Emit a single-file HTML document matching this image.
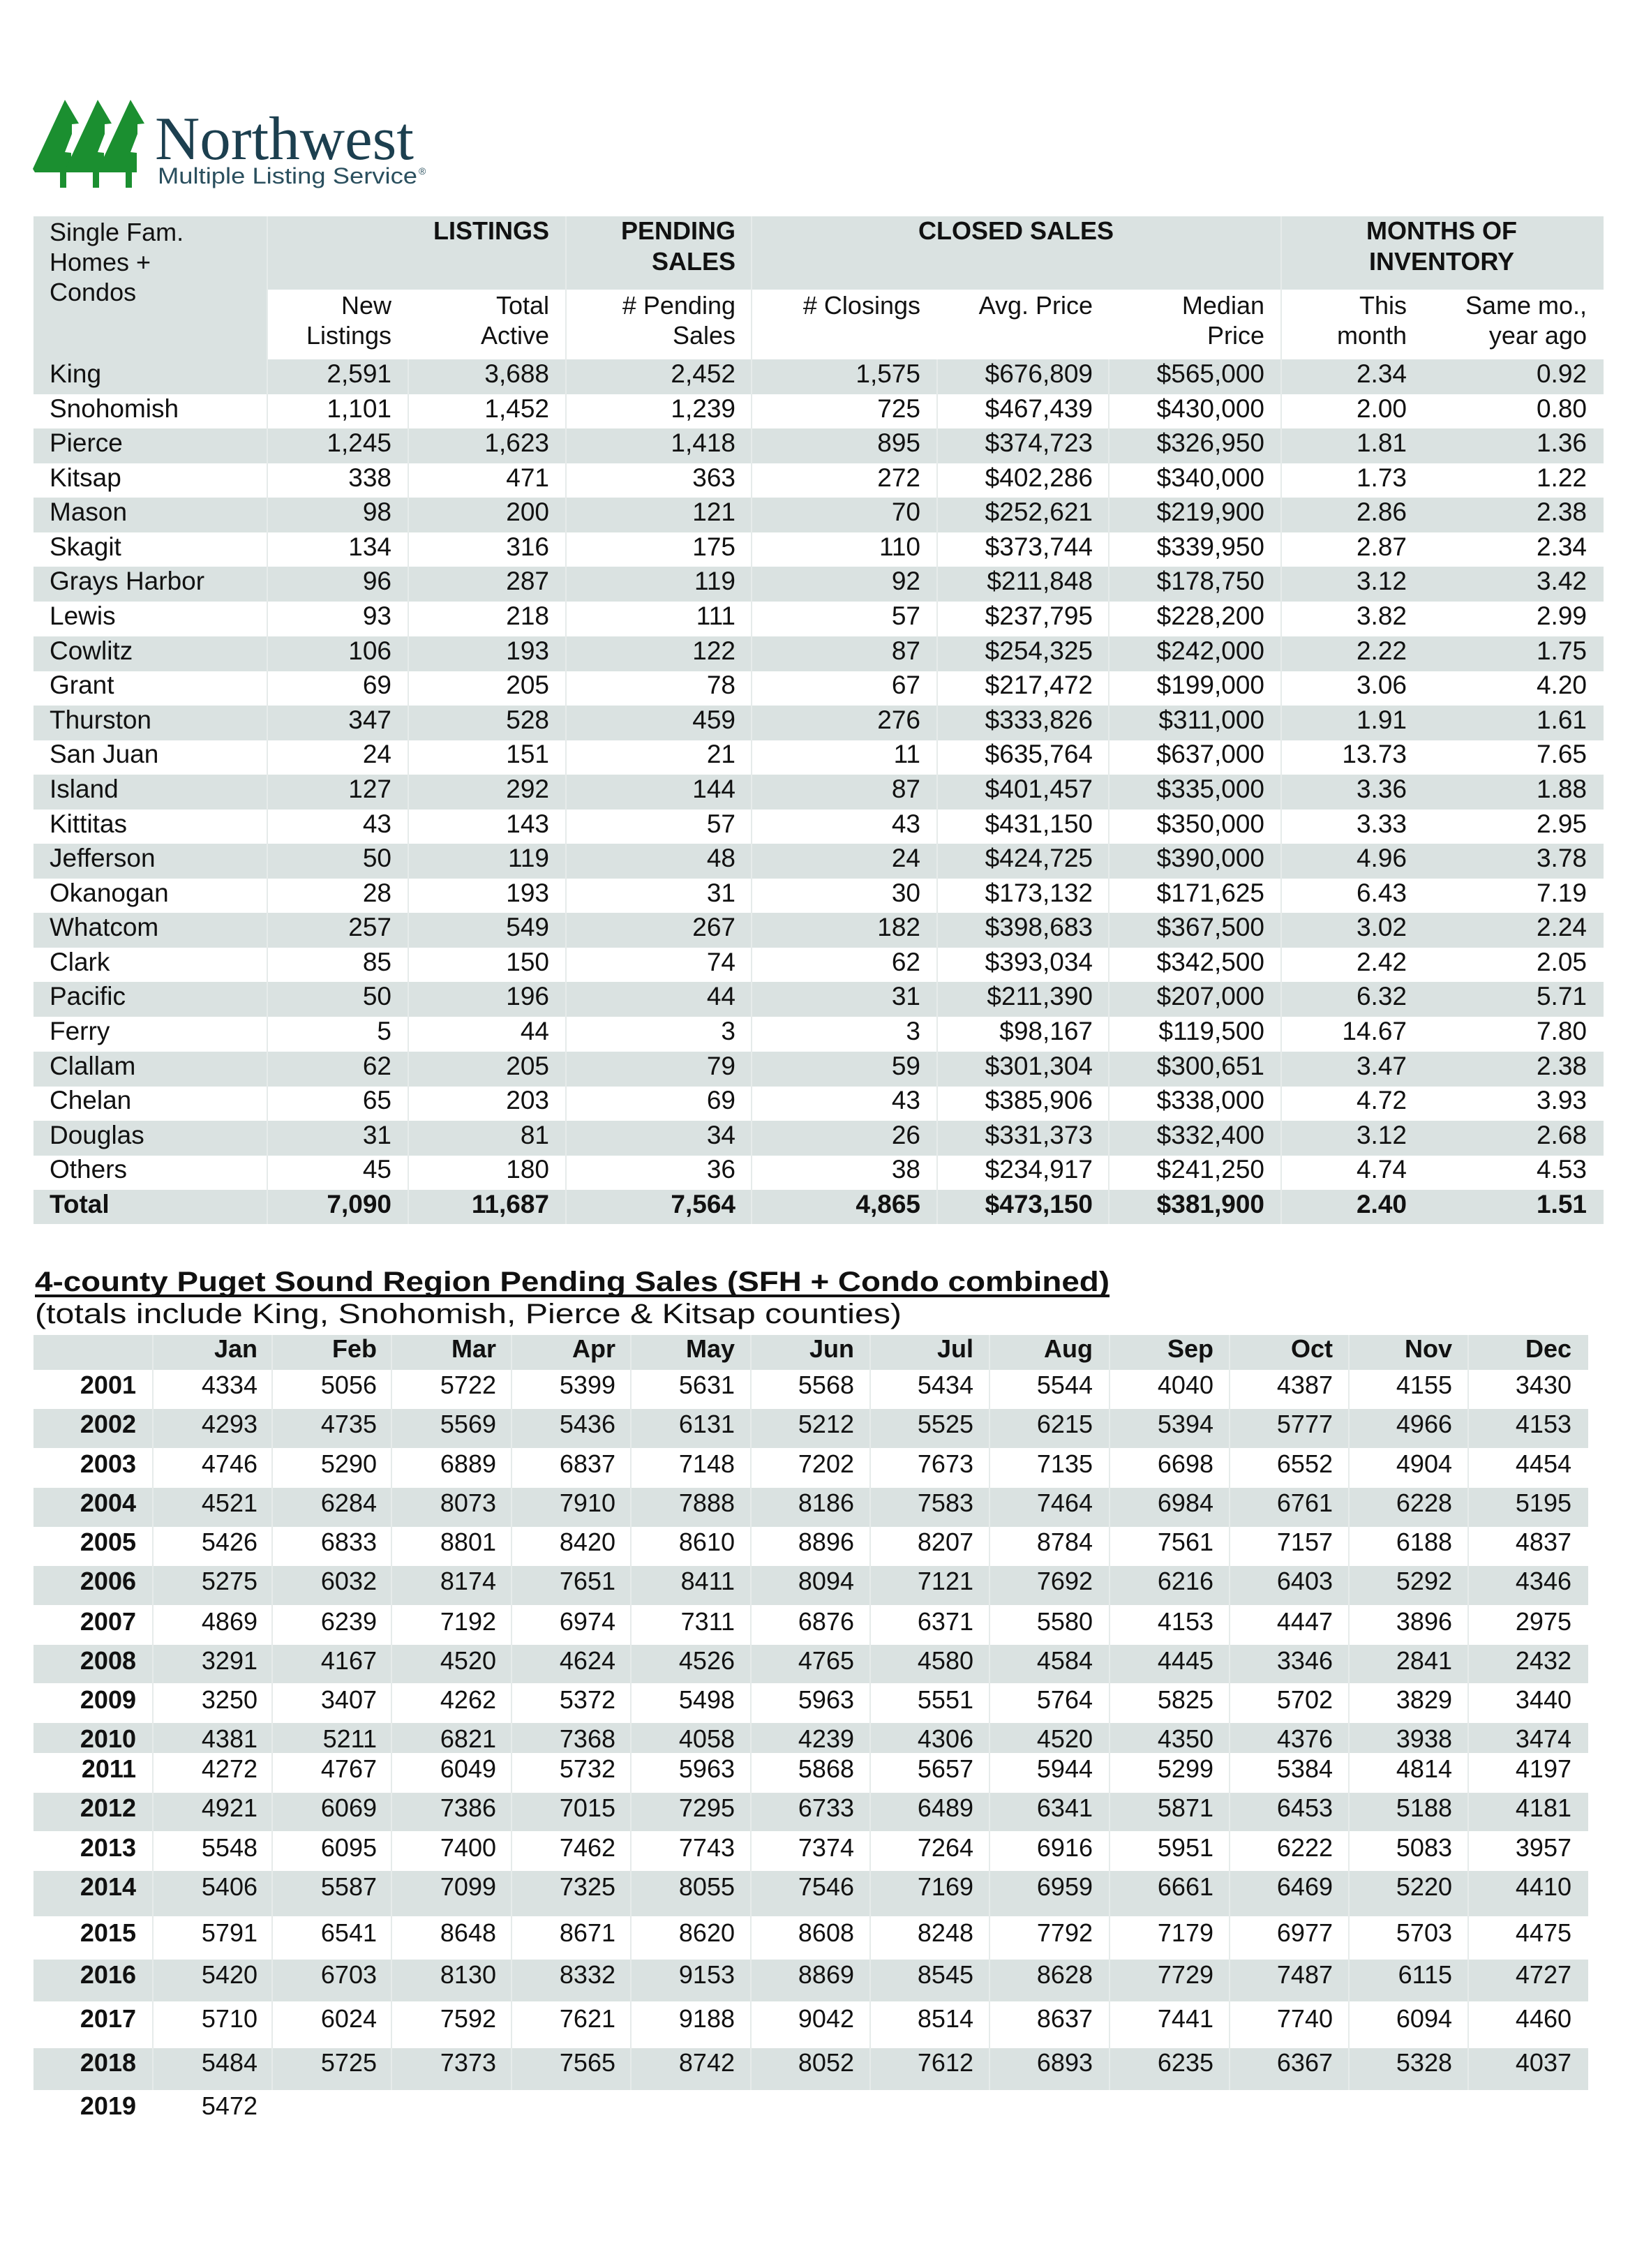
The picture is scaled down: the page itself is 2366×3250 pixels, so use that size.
<!DOCTYPE html>
<html><head><meta charset="utf-8"><style>
html,body{margin:0;padding:0;background:#fff;}
svg{display:block;}
text{font-family:"Liberation Sans",Arial,sans-serif;fill:#111;}
</style></head><body>
<svg width="2366" height="3250" viewBox="0 0 2366 3250" xmlns="http://www.w3.org/2000/svg">
<rect width="2366" height="3250" fill="#fff"/>
<!-- Logo -->
<g fill="#1b8f30">
<polygon points="93,143 113,177 103,178 103,192 93,218 102,219 102,247 50,247 47,242"/>
<rect x="86" y="246" width="9" height="23"/>
<polygon points="140,143 160,177 150,178 150,192 140,218 149,219 149,247 97,247 94,242"/>
<rect x="133" y="246" width="9" height="23"/>
<polygon points="187,143 207,177 197,178 197,192 187,218 196,219 196,247 144,247 141,242"/>
<rect x="180" y="246" width="9" height="23"/>
</g>
<text x="222" y="228" style="font-family:'Liberation Serif',serif;font-size:88px;fill:#1c3f4f" textLength="371" lengthAdjust="spacingAndGlyphs">Northwest</text>
<text x="226" y="263" style="font-size:32px;fill:#2a4f5e" textLength="372" lengthAdjust="spacingAndGlyphs">Multiple Listing Service</text>
<text x="600" y="250" style="font-size:14px;fill:#2a4f5e">®</text>

<!-- Top table backgrounds -->
<rect x="48" y="310" width="2250" height="105" fill="#dae2e1"/>
<rect x="48" y="415" width="335" height="100" fill="#dae2e1"/>
<g fill="#dae2e1">
<rect x="48" y="515" width="2250" height="50"/>
<rect x="48" y="614" width="2250" height="50"/>
<rect x="48" y="713" width="2250" height="50"/>
<rect x="48" y="812" width="2250" height="50"/>
<rect x="48" y="912" width="2250" height="50"/>
<rect x="48" y="1011" width="2250" height="50"/>
<rect x="48" y="1110" width="2250" height="50"/>
<rect x="48" y="1209" width="2250" height="50"/>
<rect x="48" y="1308" width="2250" height="50"/>
<rect x="48" y="1407" width="2250" height="50"/>
<rect x="48" y="1507" width="2250" height="50"/>
<rect x="48" y="1606" width="2250" height="50"/>
<rect x="48" y="1705" width="2250" height="49"/>
</g>
<g stroke="#e6ebea" stroke-width="2">
<line x1="383" y1="310" x2="383" y2="1754"/><line x1="585" y1="515" x2="585" y2="1754"/>
<line x1="811" y1="310" x2="811" y2="1754"/><line x1="1077" y1="310" x2="1077" y2="1754"/>
<line x1="1343" y1="515" x2="1343" y2="1754"/><line x1="1589" y1="515" x2="1589" y2="1754"/>
<line x1="1836" y1="310" x2="1836" y2="1754"/>
</g>

<!-- Top table header -->
<g style="font-size:36px">
<text x="71" y="345">Single Fam.</text>
<text x="71" y="388">Homes +</text>
<text x="71" y="431">Condos</text>
</g>
<g style="font-size:36px;font-weight:bold" text-anchor="end">
<text x="787" y="343">LISTINGS</text>
<text x="1054" y="343">PENDING</text>
<text x="1054" y="387">SALES</text>
</g>
<g style="font-size:36px;font-weight:bold" text-anchor="middle">
<text x="1456" y="343">CLOSED SALES</text>
<text x="2066" y="343">MONTHS OF</text>
<text x="2066" y="387">INVENTORY</text>
</g>
<g style="font-size:36px" text-anchor="end">
<text x="561" y="450">New</text><text x="561" y="493">Listings</text>
<text x="787" y="450">Total</text><text x="787" y="493">Active</text>
<text x="1054" y="450"># Pending</text><text x="1054" y="493">Sales</text>
<text x="1319" y="450"># Closings</text>
<text x="1566" y="450">Avg. Price</text>
<text x="1812" y="450">Median</text><text x="1812" y="493">Price</text>
<text x="2016" y="450">This</text><text x="2016" y="493">month</text>
<text x="2274" y="450">Same mo.,</text><text x="2274" y="493">year ago</text>
</g>

<!-- Top table data -->
<g style="font-size:37px">
<text x="71" y="548">King</text><text x="71" y="598">Snohomish</text><text x="71" y="647">Pierce</text><text x="71" y="697">Kitsap</text><text x="71" y="746">Mason</text><text x="71" y="796">Skagit</text><text x="71" y="845">Grays Harbor</text><text x="71" y="895">Lewis</text><text x="71" y="945">Cowlitz</text><text x="71" y="994">Grant</text><text x="71" y="1044">Thurston</text><text x="71" y="1093">San Juan</text><text x="71" y="1143">Island</text><text x="71" y="1193">Kittitas</text><text x="71" y="1242">Jefferson</text><text x="71" y="1292">Okanogan</text><text x="71" y="1341">Whatcom</text><text x="71" y="1391">Clark</text><text x="71" y="1440">Pacific</text><text x="71" y="1490">Ferry</text><text x="71" y="1540">Clallam</text><text x="71" y="1589">Chelan</text><text x="71" y="1639">Douglas</text><text x="71" y="1688">Others</text>
<text x="71" y="1738" style="font-weight:bold">Total</text>
</g>
<g style="font-size:37px" text-anchor="end">
<!-- New Listings -->
<text x="561" y="548">2,591</text><text x="561" y="598">1,101</text><text x="561" y="647">1,245</text><text x="561" y="697">338</text><text x="561" y="746">98</text><text x="561" y="796">134</text><text x="561" y="845">96</text><text x="561" y="895">93</text><text x="561" y="945">106</text><text x="561" y="994">69</text><text x="561" y="1044">347</text><text x="561" y="1093">24</text><text x="561" y="1143">127</text><text x="561" y="1193">43</text><text x="561" y="1242">50</text><text x="561" y="1292">28</text><text x="561" y="1341">257</text><text x="561" y="1391">85</text><text x="561" y="1440">50</text><text x="561" y="1490">5</text><text x="561" y="1540">62</text><text x="561" y="1589">65</text><text x="561" y="1639">31</text><text x="561" y="1688">45</text>
<!-- Total Active -->
<text x="787" y="548">3,688</text><text x="787" y="598">1,452</text><text x="787" y="647">1,623</text><text x="787" y="697">471</text><text x="787" y="746">200</text><text x="787" y="796">316</text><text x="787" y="845">287</text><text x="787" y="895">218</text><text x="787" y="945">193</text><text x="787" y="994">205</text><text x="787" y="1044">528</text><text x="787" y="1093">151</text><text x="787" y="1143">292</text><text x="787" y="1193">143</text><text x="787" y="1242">119</text><text x="787" y="1292">193</text><text x="787" y="1341">549</text><text x="787" y="1391">150</text><text x="787" y="1440">196</text><text x="787" y="1490">44</text><text x="787" y="1540">205</text><text x="787" y="1589">203</text><text x="787" y="1639">81</text><text x="787" y="1688">180</text>
<!-- Pending -->
<text x="1054" y="548">2,452</text><text x="1054" y="598">1,239</text><text x="1054" y="647">1,418</text><text x="1054" y="697">363</text><text x="1054" y="746">121</text><text x="1054" y="796">175</text><text x="1054" y="845">119</text><text x="1054" y="895">111</text><text x="1054" y="945">122</text><text x="1054" y="994">78</text><text x="1054" y="1044">459</text><text x="1054" y="1093">21</text><text x="1054" y="1143">144</text><text x="1054" y="1193">57</text><text x="1054" y="1242">48</text><text x="1054" y="1292">31</text><text x="1054" y="1341">267</text><text x="1054" y="1391">74</text><text x="1054" y="1440">44</text><text x="1054" y="1490">3</text><text x="1054" y="1540">79</text><text x="1054" y="1589">69</text><text x="1054" y="1639">34</text><text x="1054" y="1688">36</text>
<!-- Closings -->
<text x="1319" y="548">1,575</text><text x="1319" y="598">725</text><text x="1319" y="647">895</text><text x="1319" y="697">272</text><text x="1319" y="746">70</text><text x="1319" y="796">110</text><text x="1319" y="845">92</text><text x="1319" y="895">57</text><text x="1319" y="945">87</text><text x="1319" y="994">67</text><text x="1319" y="1044">276</text><text x="1319" y="1093">11</text><text x="1319" y="1143">87</text><text x="1319" y="1193">43</text><text x="1319" y="1242">24</text><text x="1319" y="1292">30</text><text x="1319" y="1341">182</text><text x="1319" y="1391">62</text><text x="1319" y="1440">31</text><text x="1319" y="1490">3</text><text x="1319" y="1540">59</text><text x="1319" y="1589">43</text><text x="1319" y="1639">26</text><text x="1319" y="1688">38</text>
<!-- Avg Price -->
<text x="1566" y="548">$676,809</text><text x="1566" y="598">$467,439</text><text x="1566" y="647">$374,723</text><text x="1566" y="697">$402,286</text><text x="1566" y="746">$252,621</text><text x="1566" y="796">$373,744</text><text x="1566" y="845">$211,848</text><text x="1566" y="895">$237,795</text><text x="1566" y="945">$254,325</text><text x="1566" y="994">$217,472</text><text x="1566" y="1044">$333,826</text><text x="1566" y="1093">$635,764</text><text x="1566" y="1143">$401,457</text><text x="1566" y="1193">$431,150</text><text x="1566" y="1242">$424,725</text><text x="1566" y="1292">$173,132</text><text x="1566" y="1341">$398,683</text><text x="1566" y="1391">$393,034</text><text x="1566" y="1440">$211,390</text><text x="1566" y="1490">$98,167</text><text x="1566" y="1540">$301,304</text><text x="1566" y="1589">$385,906</text><text x="1566" y="1639">$331,373</text><text x="1566" y="1688">$234,917</text>
<!-- Median -->
<text x="1812" y="548">$565,000</text><text x="1812" y="598">$430,000</text><text x="1812" y="647">$326,950</text><text x="1812" y="697">$340,000</text><text x="1812" y="746">$219,900</text><text x="1812" y="796">$339,950</text><text x="1812" y="845">$178,750</text><text x="1812" y="895">$228,200</text><text x="1812" y="945">$242,000</text><text x="1812" y="994">$199,000</text><text x="1812" y="1044">$311,000</text><text x="1812" y="1093">$637,000</text><text x="1812" y="1143">$335,000</text><text x="1812" y="1193">$350,000</text><text x="1812" y="1242">$390,000</text><text x="1812" y="1292">$171,625</text><text x="1812" y="1341">$367,500</text><text x="1812" y="1391">$342,500</text><text x="1812" y="1440">$207,000</text><text x="1812" y="1490">$119,500</text><text x="1812" y="1540">$300,651</text><text x="1812" y="1589">$338,000</text><text x="1812" y="1639">$332,400</text><text x="1812" y="1688">$241,250</text>
<!-- This month -->
<text x="2016" y="548">2.34</text><text x="2016" y="598">2.00</text><text x="2016" y="647">1.81</text><text x="2016" y="697">1.73</text><text x="2016" y="746">2.86</text><text x="2016" y="796">2.87</text><text x="2016" y="845">3.12</text><text x="2016" y="895">3.82</text><text x="2016" y="945">2.22</text><text x="2016" y="994">3.06</text><text x="2016" y="1044">1.91</text><text x="2016" y="1093">13.73</text><text x="2016" y="1143">3.36</text><text x="2016" y="1193">3.33</text><text x="2016" y="1242">4.96</text><text x="2016" y="1292">6.43</text><text x="2016" y="1341">3.02</text><text x="2016" y="1391">2.42</text><text x="2016" y="1440">6.32</text><text x="2016" y="1490">14.67</text><text x="2016" y="1540">3.47</text><text x="2016" y="1589">4.72</text><text x="2016" y="1639">3.12</text><text x="2016" y="1688">4.74</text>
<!-- Same mo -->
<text x="2274" y="548">0.92</text><text x="2274" y="598">0.80</text><text x="2274" y="647">1.36</text><text x="2274" y="697">1.22</text><text x="2274" y="746">2.38</text><text x="2274" y="796">2.34</text><text x="2274" y="845">3.42</text><text x="2274" y="895">2.99</text><text x="2274" y="945">1.75</text><text x="2274" y="994">4.20</text><text x="2274" y="1044">1.61</text><text x="2274" y="1093">7.65</text><text x="2274" y="1143">1.88</text><text x="2274" y="1193">2.95</text><text x="2274" y="1242">3.78</text><text x="2274" y="1292">7.19</text><text x="2274" y="1341">2.24</text><text x="2274" y="1391">2.05</text><text x="2274" y="1440">5.71</text><text x="2274" y="1490">7.80</text><text x="2274" y="1540">2.38</text><text x="2274" y="1589">3.93</text><text x="2274" y="1639">2.68</text><text x="2274" y="1688">4.53</text>
</g>
<g style="font-size:37px;font-weight:bold" text-anchor="end">
<text x="561" y="1738">7,090</text><text x="787" y="1738">11,687</text><text x="1054" y="1738">7,564</text><text x="1319" y="1738">4,865</text><text x="1566" y="1738">$473,150</text><text x="1812" y="1738">$381,900</text><text x="2016" y="1738">2.40</text><text x="2274" y="1738">1.51</text>
</g>

<!-- Title -->
<text x="50" y="1850" style="font-size:40px;font-weight:bold" textLength="1540" lengthAdjust="spacingAndGlyphs">4-county Puget Sound Region Pending Sales (SFH + Condo combined)</text>
<rect x="50" y="1855" width="1540" height="4" fill="#111"/>
<text x="50" y="1896" style="font-size:40px" textLength="1242" lengthAdjust="spacingAndGlyphs">(totals include King, Snohomish, Pierce &amp; Kitsap counties)</text>

<!-- Second table backgrounds -->
<g fill="#dae2e1">
<rect x="48" y="1913" width="2228" height="50"/>
<rect x="48" y="2019" width="2228" height="56"/>
<rect x="48" y="2132" width="2228" height="56"/>
<rect x="48" y="2244" width="2228" height="56"/>
<rect x="48" y="2357" width="2228" height="55"/>
<rect x="48" y="2469" width="2228" height="43"/>
<rect x="48" y="2569" width="2228" height="55"/>
<rect x="48" y="2681" width="2228" height="65"/>
<rect x="48" y="2808" width="2228" height="60"/>
<rect x="48" y="2935" width="2228" height="60"/>
</g>
<g stroke="#e6ebea" stroke-width="2">
<line x1="219" y1="1913" x2="219" y2="2995"/><line x1="390" y1="1913" x2="390" y2="2995"/><line x1="561" y1="1913" x2="561" y2="2995"/><line x1="733" y1="1913" x2="733" y2="2995"/><line x1="904" y1="1913" x2="904" y2="2995"/><line x1="1076" y1="1913" x2="1076" y2="2995"/><line x1="1247" y1="1913" x2="1247" y2="2995"/><line x1="1418" y1="1913" x2="1418" y2="2995"/><line x1="1590" y1="1913" x2="1590" y2="2995"/><line x1="1762" y1="1913" x2="1762" y2="2995"/><line x1="1933" y1="1913" x2="1933" y2="2995"/><line x1="2104" y1="1913" x2="2104" y2="2995"/>
</g>

<!-- Second table header -->
<g style="font-size:36px;font-weight:bold" text-anchor="end">
<text x="369" y="1945">Jan</text><text x="540" y="1945">Feb</text><text x="711" y="1945">Mar</text><text x="882" y="1945">Apr</text><text x="1053" y="1945">May</text><text x="1224" y="1945">Jun</text><text x="1395" y="1945">Jul</text><text x="1566" y="1945">Aug</text><text x="1739" y="1945">Sep</text><text x="1910" y="1945">Oct</text><text x="2081" y="1945">Nov</text><text x="2252" y="1945">Dec</text>
<text x="195" y="1997">2001</text><text x="195" y="2053">2002</text><text x="195" y="2110">2003</text><text x="195" y="2166">2004</text><text x="195" y="2222">2005</text><text x="195" y="2278">2006</text><text x="195" y="2336">2007</text><text x="195" y="2392">2008</text><text x="195" y="2448">2009</text><text x="195" y="2504">2010</text><text x="195" y="2547">2011</text><text x="195" y="2603">2012</text><text x="195" y="2660">2013</text><text x="195" y="2716">2014</text><text x="195" y="2782">2015</text><text x="195" y="2842">2016</text><text x="195" y="2905">2017</text><text x="195" y="2968">2018</text><text x="195" y="3030">2019</text>
</g>
<g style="font-size:36px" text-anchor="end">
<g transform="translate(0,1997)"><text x="369">4334</text><text x="540">5056</text><text x="711">5722</text><text x="882">5399</text><text x="1053">5631</text><text x="1224">5568</text><text x="1395">5434</text><text x="1566">5544</text><text x="1739">4040</text><text x="1910">4387</text><text x="2081">4155</text><text x="2252">3430</text></g>
<g transform="translate(0,2053)"><text x="369">4293</text><text x="540">4735</text><text x="711">5569</text><text x="882">5436</text><text x="1053">6131</text><text x="1224">5212</text><text x="1395">5525</text><text x="1566">6215</text><text x="1739">5394</text><text x="1910">5777</text><text x="2081">4966</text><text x="2252">4153</text></g>
<g transform="translate(0,2110)"><text x="369">4746</text><text x="540">5290</text><text x="711">6889</text><text x="882">6837</text><text x="1053">7148</text><text x="1224">7202</text><text x="1395">7673</text><text x="1566">7135</text><text x="1739">6698</text><text x="1910">6552</text><text x="2081">4904</text><text x="2252">4454</text></g>
<g transform="translate(0,2166)"><text x="369">4521</text><text x="540">6284</text><text x="711">8073</text><text x="882">7910</text><text x="1053">7888</text><text x="1224">8186</text><text x="1395">7583</text><text x="1566">7464</text><text x="1739">6984</text><text x="1910">6761</text><text x="2081">6228</text><text x="2252">5195</text></g>
<g transform="translate(0,2222)"><text x="369">5426</text><text x="540">6833</text><text x="711">8801</text><text x="882">8420</text><text x="1053">8610</text><text x="1224">8896</text><text x="1395">8207</text><text x="1566">8784</text><text x="1739">7561</text><text x="1910">7157</text><text x="2081">6188</text><text x="2252">4837</text></g>
<g transform="translate(0,2278)"><text x="369">5275</text><text x="540">6032</text><text x="711">8174</text><text x="882">7651</text><text x="1053">8411</text><text x="1224">8094</text><text x="1395">7121</text><text x="1566">7692</text><text x="1739">6216</text><text x="1910">6403</text><text x="2081">5292</text><text x="2252">4346</text></g>
<g transform="translate(0,2336)"><text x="369">4869</text><text x="540">6239</text><text x="711">7192</text><text x="882">6974</text><text x="1053">7311</text><text x="1224">6876</text><text x="1395">6371</text><text x="1566">5580</text><text x="1739">4153</text><text x="1910">4447</text><text x="2081">3896</text><text x="2252">2975</text></g>
<g transform="translate(0,2392)"><text x="369">3291</text><text x="540">4167</text><text x="711">4520</text><text x="882">4624</text><text x="1053">4526</text><text x="1224">4765</text><text x="1395">4580</text><text x="1566">4584</text><text x="1739">4445</text><text x="1910">3346</text><text x="2081">2841</text><text x="2252">2432</text></g>
<g transform="translate(0,2448)"><text x="369">3250</text><text x="540">3407</text><text x="711">4262</text><text x="882">5372</text><text x="1053">5498</text><text x="1224">5963</text><text x="1395">5551</text><text x="1566">5764</text><text x="1739">5825</text><text x="1910">5702</text><text x="2081">3829</text><text x="2252">3440</text></g>
<g transform="translate(0,2504)"><text x="369">4381</text><text x="540">5211</text><text x="711">6821</text><text x="882">7368</text><text x="1053">4058</text><text x="1224">4239</text><text x="1395">4306</text><text x="1566">4520</text><text x="1739">4350</text><text x="1910">4376</text><text x="2081">3938</text><text x="2252">3474</text></g>
<g transform="translate(0,2547)"><text x="369">4272</text><text x="540">4767</text><text x="711">6049</text><text x="882">5732</text><text x="1053">5963</text><text x="1224">5868</text><text x="1395">5657</text><text x="1566">5944</text><text x="1739">5299</text><text x="1910">5384</text><text x="2081">4814</text><text x="2252">4197</text></g>
<g transform="translate(0,2603)"><text x="369">4921</text><text x="540">6069</text><text x="711">7386</text><text x="882">7015</text><text x="1053">7295</text><text x="1224">6733</text><text x="1395">6489</text><text x="1566">6341</text><text x="1739">5871</text><text x="1910">6453</text><text x="2081">5188</text><text x="2252">4181</text></g>
<g transform="translate(0,2660)"><text x="369">5548</text><text x="540">6095</text><text x="711">7400</text><text x="882">7462</text><text x="1053">7743</text><text x="1224">7374</text><text x="1395">7264</text><text x="1566">6916</text><text x="1739">5951</text><text x="1910">6222</text><text x="2081">5083</text><text x="2252">3957</text></g>
<g transform="translate(0,2716)"><text x="369">5406</text><text x="540">5587</text><text x="711">7099</text><text x="882">7325</text><text x="1053">8055</text><text x="1224">7546</text><text x="1395">7169</text><text x="1566">6959</text><text x="1739">6661</text><text x="1910">6469</text><text x="2081">5220</text><text x="2252">4410</text></g>
<g transform="translate(0,2782)"><text x="369">5791</text><text x="540">6541</text><text x="711">8648</text><text x="882">8671</text><text x="1053">8620</text><text x="1224">8608</text><text x="1395">8248</text><text x="1566">7792</text><text x="1739">7179</text><text x="1910">6977</text><text x="2081">5703</text><text x="2252">4475</text></g>
<g transform="translate(0,2842)"><text x="369">5420</text><text x="540">6703</text><text x="711">8130</text><text x="882">8332</text><text x="1053">9153</text><text x="1224">8869</text><text x="1395">8545</text><text x="1566">8628</text><text x="1739">7729</text><text x="1910">7487</text><text x="2081">6115</text><text x="2252">4727</text></g>
<g transform="translate(0,2905)"><text x="369">5710</text><text x="540">6024</text><text x="711">7592</text><text x="882">7621</text><text x="1053">9188</text><text x="1224">9042</text><text x="1395">8514</text><text x="1566">8637</text><text x="1739">7441</text><text x="1910">7740</text><text x="2081">6094</text><text x="2252">4460</text></g>
<g transform="translate(0,2968)"><text x="369">5484</text><text x="540">5725</text><text x="711">7373</text><text x="882">7565</text><text x="1053">8742</text><text x="1224">8052</text><text x="1395">7612</text><text x="1566">6893</text><text x="1739">6235</text><text x="1910">6367</text><text x="2081">5328</text><text x="2252">4037</text></g>
<g transform="translate(0,3030)"><text x="369">5472</text></g>
</g>
</svg>
</body></html>
